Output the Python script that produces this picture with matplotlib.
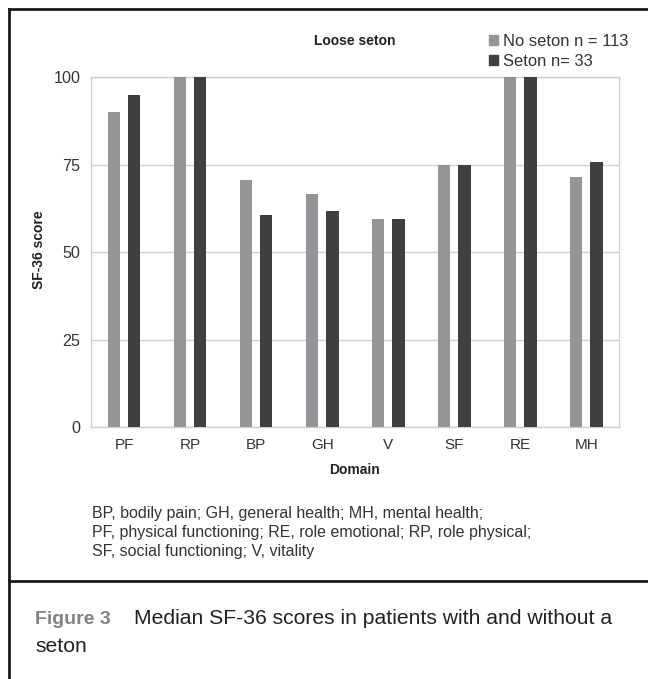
import matplotlib.pyplot as plt
import numpy as np
from matplotlib.lines import Line2D
from matplotlib.patches import Patch

# --- dados
dominios = ['PF', 'RP', 'BP', 'GH', 'V', 'SF', 'RE', 'MH']
sem_seton = [90, 100, 70.5, 66.7, 59.5, 75, 100, 71.5]
com_seton = [95, 100, 60.6, 61.8, 59.5, 75, 100, 75.8]
rotulos = ['No seton n = 113', 'Seton n= 33']
yticks = [0, 25, 50, 75, 100]

nota = ('BP, bodily pain; GH, general health; MH, mental health;\n'
        'PF, physical functioning; RE, role emotional; RP, role physical;\n'
        'SF, social functioning; V, vitality')

plt.rcParams['font.family'] = ['Liberation Sans', 'DejaVu Sans']

W, H = 648, 679
fig = plt.figure(figsize=(W / 100, H / 100), dpi=100)

def fx(px):
    return px / W

def fy(py):
    return 1 - py / H

ax = fig.add_axes([fx(91), fy(427), fx(619.3 - 91), (427 - 77.3) / H])

x = np.arange(len(dominios))
larg = 0.19
ax.bar(x - 0.153, sem_seton, larg, color='#939598', label=rotulos[0], zorder=3)
ax.bar(x + 0.153, com_seton, larg, color='#404040', label=rotulos[1], zorder=3)

ax.set_xlim(-0.5, len(dominios) - 0.5)
ax.set_ylim(0, 100)
ax.set_yticks(yticks)
ax.set_xticks(x)
ax.set_xticklabels(dominios)
ax.yaxis.grid(True, color='#d0d0d0', linewidth=1.0, zorder=0)
for s in ax.spines.values():
    s.set_color('#d0d0d0')
    s.set_linewidth(1.0)
ax.tick_params(length=0, colors='#333333')
ax.tick_params(axis='y', pad=7.5, labelsize=11.6)
ax.tick_params(axis='x', pad=8, labelsize=11)

# textos do gráfico
fig.text(fx(354.5), fy(40.7), 'Loose seton', ha='center', va='center',
         fontsize=10, fontweight='bold', color='#222222')
fig.text(fx(39.3), fy(250), 'SF-36 score', ha='center', va='center',
         rotation=90, fontsize=10, fontweight='bold', color='#222222')
fig.text(fx(354), fy(470), 'Domain', ha='center', va='center',
         fontsize=10, fontweight='bold', color='#222222')

handles = [Patch(color='#939598'), Patch(color='#404040')]
fig.legend(handles, rotulos, loc='upper left',
           bbox_to_anchor=(fx(488.5), fy(34)), frameon=False,
           fontsize=11.9, handlelength=0.58, handleheight=0.58,
           handletextpad=0.32, labelspacing=0.3, borderpad=0,
           borderaxespad=0, labelcolor='#333333')

fig.text(fx(91.7), fy(532.7), nota, ha='left', va='center',
         fontsize=11.55, linespacing=1.31, color='#333333')

# moldura
fig.add_artist(Line2D([fx(9), 1], [fy(9), fy(9)], color='#1a1a1a', lw=2))
fig.add_artist(Line2D([fx(9), fx(9)], [fy(9), 0], color='#1a1a1a', lw=2))
fig.add_artist(Line2D([fx(9), 1], [fy(581), fy(581)], color='#1a1a1a', lw=2))

# legenda da figura
fig.text(fx(35), fy(619), 'Figure 3', ha='left', va='center',
         fontsize=14, color='#808285', fontweight='bold')
fig.text(fx(134), fy(619), 'Median SF-36 scores in patients with and without a',
         ha='left', va='center', fontsize=15.2, color='#222222')
fig.text(fx(35), fy(647), 'seton', ha='left', va='center',
         fontsize=15.2, color='#222222')

fig.savefig('out.png', dpi=100)
